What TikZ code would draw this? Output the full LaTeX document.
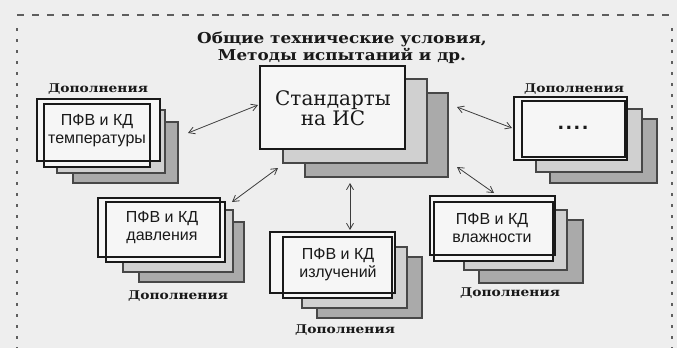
\documentclass[tikz,border=0pt]{standalone}
\usepackage{fontspec}
\setmainfont{DejaVu Serif}
\newfontfamily\titlef{DejaVu Serif}[FakeStretch=1.12]
\newfontfamily\labelf{DejaVu Serif}[FakeStretch=1.15]
\newfontfamily\sansf{Liberation Sans}
\usetikzlibrary{arrows.meta}
\definecolor{bg}{RGB}{238,238,238}
\definecolor{paper}{RGB}{246,246,246}
\definecolor{lgrey}{RGB}{208,208,208}
\definecolor{dgrey}{RGB}{170,170,170}
\definecolor{ink}{RGB}{25,25,25}
\tikzset{
  frontbox/.style={draw=ink, line width=1.8pt, fill=paper},
  lightsheet/.style={draw=ink!80, line width=1.1pt, fill=lgrey},
  darksheet/.style={draw=ink!80, line width=1.1pt, fill=dgrey},
  sanstext/.style={font=\sansf\fontsize{16}{18}\selectfont, align=center, text=ink, inner sep=0pt},
  addlabel/.style={font=\labelf\bfseries\fontsize{12}{13}\selectfont, text=ink, inner sep=0pt},
  link/.style={draw=ink!85, line width=0.8pt, {Straight Barb[length=6pt,width=7pt]}-{Straight Barb[length=6pt,width=7pt]}},
  frame/.style={draw=ink!70, line width=1.3pt}
}
\begin{document}
\begin{tikzpicture}[x=1pt,y=-1pt]
\fill[bg] (0,0) rectangle (677,348);
\useasboundingbox (0,0) rectangle (677,348);
% frame
\draw[frame, dash pattern=on 7pt off 8pt] (17,15) -- (677,15);
\draw[frame, dash pattern=on 3pt off 8pt] (17,28) -- (17,348);
\draw[frame, dash pattern=on 3pt off 8pt] (672,28) -- (672,348);
% title
\node[font=\titlef\bfseries\fontsize{15}{15}\selectfont, align=center, text=ink, inner sep=0pt] (title) at (342,48)
  {Общие технические условия,\\Методы испытаний и др.};
% standards
\path[darksheet] (305,93) rectangle (448,177);
\path[lightsheet] (283,79) rectangle (427,163);
\path[frontbox] (260,66) rectangle (405,149);
\node[font=\fontsize{20}{17}\selectfont, align=center, text=ink, inner sep=0pt] (std) at (333,108) {Стандарты\\на ИС};
% temperature
\path[darksheet] (73,122) rectangle (178,183);
\path[lightsheet] (57,110) rectangle (165,173);
\path[fill=paper] (37,99) rectangle (160,161);
\path[fill=paper] (44,104) rectangle (150,167);
\draw[ink, line width=1.1pt] (44,104) rectangle (150,167);
\draw[ink, line width=1.8pt] (37,99) rectangle (160,161);
\node[sanstext] (temp) at (97,131) {ПФВ и КД\\температуры};
\node[addlabel] (ltemp) at (98,89) {Дополнения};
% pressure
\path[darksheet] (139,222) rectangle (244,282);
\path[lightsheet] (123,210) rectangle (233,272);
\path[fill=paper] (98,198) rectangle (220,257);
\path[fill=paper] (106,202) rectangle (225,262);
\draw[ink, line width=1.1pt] (106,202) rectangle (225,262);
\draw[ink, line width=1.8pt] (98,198) rectangle (220,257);
\node[sanstext] (press) at (162,228) {ПФВ и КД\\давления};
\node[addlabel] (lpress) at (178,296) {Дополнения};
% radiation
\path[darksheet] (317,257) rectangle (422,318);
\path[lightsheet] (302,247) rectangle (407,308);
\path[fill=paper] (270,232) rectangle (395,293);
\path[fill=paper] (283,237) rectangle (392,298);
\draw[ink, line width=1.1pt] (283,237) rectangle (392,298);
\draw[ink, line width=1.8pt] (270,232) rectangle (395,293);
\node[sanstext] (rad) at (338,265) {ПФВ и КД\\излучений};
\node[addlabel] (lrad) at (345,330) {Дополнения};
% humidity
\path[darksheet] (479,220) rectangle (583,283);
\path[lightsheet] (464,210) rectangle (567,270);
\path[fill=paper] (430,196) rectangle (555,255);
\path[fill=paper] (434,202) rectangle (553,261);
\draw[ink, line width=1.1pt] (434,202) rectangle (553,261);
\draw[ink, line width=1.8pt] (430,196) rectangle (555,255);
\node[sanstext] (hum) at (492,228) {ПФВ и КД\\влажности};
\node[addlabel] (lhum) at (510,293) {Дополнения};
% other
\path[darksheet] (550,119) rectangle (657,183);
\path[lightsheet] (536,109) rectangle (642,172);
\path[fill=paper] (514,97) rectangle (627,160);
\draw[ink, line width=1.1pt] (522,101) rectangle (625,157);
\draw[ink, line width=1.8pt] (514,97) rectangle (627,160);
\node[sanstext, font=\sansf\bfseries\fontsize{22}{22}\selectfont] (other) at (573,128) {.\kern2pt.\kern2pt.\kern2pt.};
\node[addlabel] (lother) at (574,89) {Дополнения};
% connector ends
\coordinate (t1) at (188,133); \coordinate (s1) at (258,105);
\coordinate (p1) at (232,202); \coordinate (s2) at (278,168);
\coordinate (r1) at (350,230); \coordinate (s3) at (350,183);
\coordinate (h1) at (494,193); \coordinate (s4) at (457,167);
\coordinate (o1) at (512,128); \coordinate (s5) at (457,107);
\draw[link] (t1) -- (s1);
\draw[link] (p1) -- (s2);
\draw[link] (r1) -- (s3);
\draw[link] (h1) -- (s4);
\draw[link] (o1) -- (s5);
\end{tikzpicture}
\end{document}
